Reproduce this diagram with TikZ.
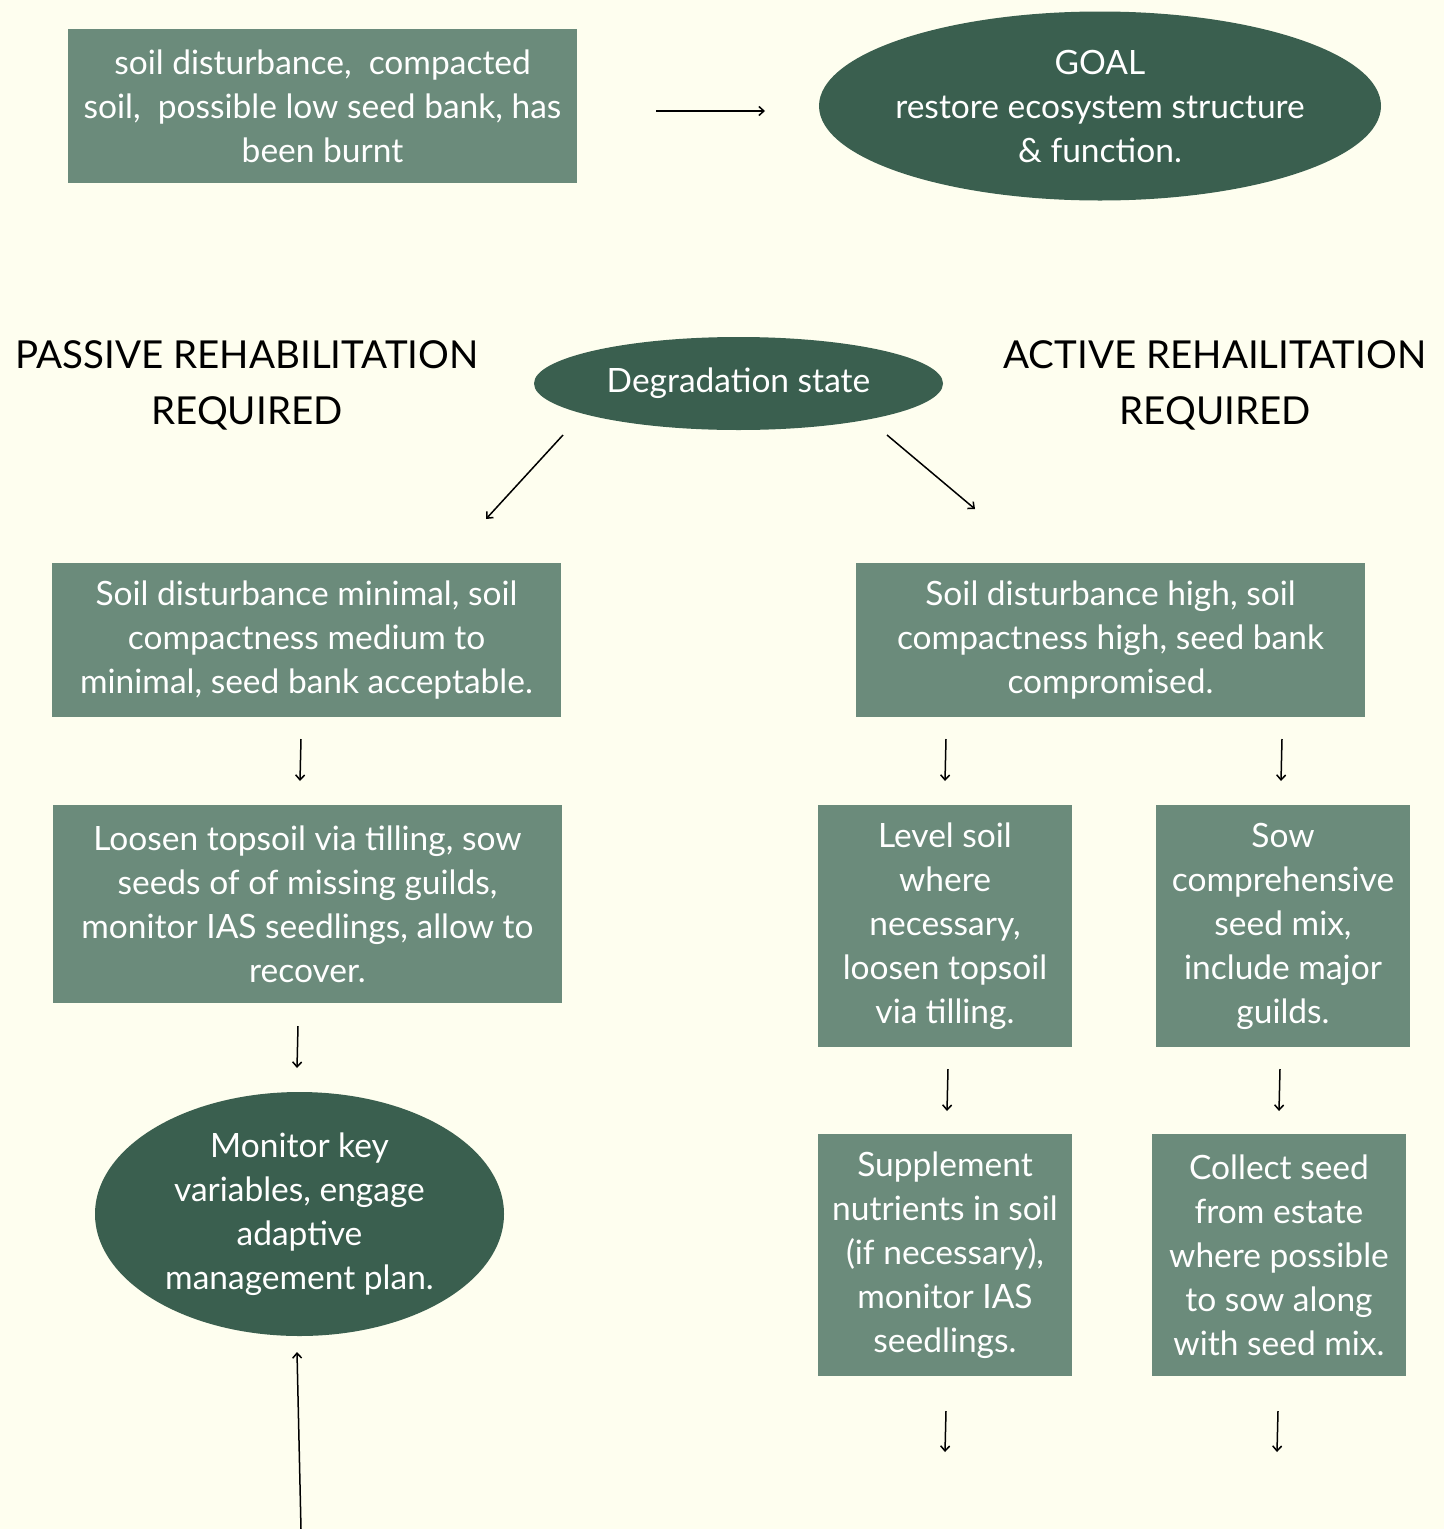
\documentclass[tikz,border=0pt]{standalone}
\usepackage{fontspec}
\setmainfont{Lato}
\usetikzlibrary{arrows.meta,shapes.geometric}
\definecolor{bgc}{HTML}{FEFEEF}
\definecolor{boxc}{HTML}{6B8B7B}
\definecolor{ellc}{HTML}{3A5F4F}
\begin{document}
\begin{tikzpicture}[x=1pt,y=-1pt,
  lbox/.style={fill=boxc,text=white,align=center,inner sep=0pt,font=\fontsize{33.5}{44}\selectfont},
  dell/.style={ellipse,fill=ellc,inner sep=0pt},
  etext/.style={text=white,align=center,inner sep=0pt,font=\fontsize{33.5}{44}\selectfont},
  head/.style={align=center,text=black,font=\fontsize{38.5}{56}\selectfont},
  arr/.style={line width=1.5pt,-{Straight Barb[length=5pt,width=9pt,line width=1.5pt]}}]
\fill[bgc] (0,0) rectangle (1444,1529);
\useasboundingbox (0,0) rectangle (1444,1529);
% nodes
\node[lbox,minimum width=509pt,minimum height=154pt] (b1) at (322.5,106) {soil disturbance,\ \ compacted\\soil,\ \ possible low seed bank, has\\been burnt};
\node[dell,minimum width=562pt,minimum height=189pt] (goal) at (1100,106) {};
\node[etext] (goalt) at (goal.center) {GOAL\\restore ecosystem structure\\\& function.};
\node[head] (passive) at (247,385) {PASSIVE REHABILITATION\\REQUIRED};
\node[dell,minimum width=409pt,minimum height=93pt] (deg) at (738.5,383.5) {};
\node[etext] (degt) at (deg.center) {Degradation state};
\node[head] (active) at (1215,385) {ACTIVE REHAILITATION\\REQUIRED};
\node[lbox,minimum width=509pt,minimum height=154pt] (l1) at (306.5,640) {Soil disturbance minimal, soil\\compactness medium to\\minimal, seed bank acceptable.};
\node[lbox,minimum width=509pt,minimum height=154pt] (r1) at (1110.5,640) {Soil disturbance high, soil\\compactness high, seed bank\\compromised.};
\node[lbox,minimum width=509pt,minimum height=198pt] (l2) at (307.5,904) {Loosen topsoil via tilling, sow\\seeds of of missing guilds,\\monitor IAS seedlings, allow to\\recover.};
\node[lbox,minimum width=254pt,minimum height=242pt] (r2a) at (945,926) {Level soil\\where\\necessary,\\loosen topsoil\\via tilling.};
\node[lbox,minimum width=254pt,minimum height=242pt] (r2b) at (1283,926) {Sow\\comprehensive\\seed mix,\\include major\\guilds.};
\node[dell,minimum width=409pt,minimum height=244pt] (mon) at (299.5,1214) {};
\node[etext] (mont) at (mon.center) {Monitor key\\variables, engage\\adaptive\\management plan.};
\node[lbox,minimum width=254pt,minimum height=242pt] (r3a) at (945,1255) {Supplement\\nutrients in soil\\(if necessary),\\monitor IAS\\seedlings.};
\node[lbox,minimum width=254pt,minimum height=242pt] (r3b) at (1279,1255) {Collect seed\\from estate\\where possible\\to sow along\\with seed mix.};
% arrow end coordinates
\coordinate (a1s) at (656,111); \coordinate (a1e) at (765,111);
\coordinate (a2s) at (563,435); \coordinate (a2e) at (486,519);
\coordinate (a3s) at (887,435); \coordinate (a3e) at (975,509);
\coordinate (a4s) at (301,739); \coordinate (a4e) at (300,781);
\coordinate (a5s) at (946,739); \coordinate (a5e) at (945,781);
\coordinate (a6s) at (1282,739); \coordinate (a6e) at (1281,781);
\coordinate (a7s) at (298,1026); \coordinate (a7e) at (297,1068);
\coordinate (a8s) at (301,1529); \coordinate (a8e) at (297,1352);
\coordinate (a9s) at (948,1069); \coordinate (a9e) at (947,1111);
\coordinate (a10s) at (1280,1069); \coordinate (a10e) at (1279,1111);
\coordinate (a11s) at (946,1411); \coordinate (a11e) at (945,1452);
\coordinate (a12s) at (1278,1411); \coordinate (a12e) at (1277,1452);
\foreach \i in {1,...,12} {\draw[arr] (a\i s) -- (a\i e);}
\end{tikzpicture}
\end{document}
